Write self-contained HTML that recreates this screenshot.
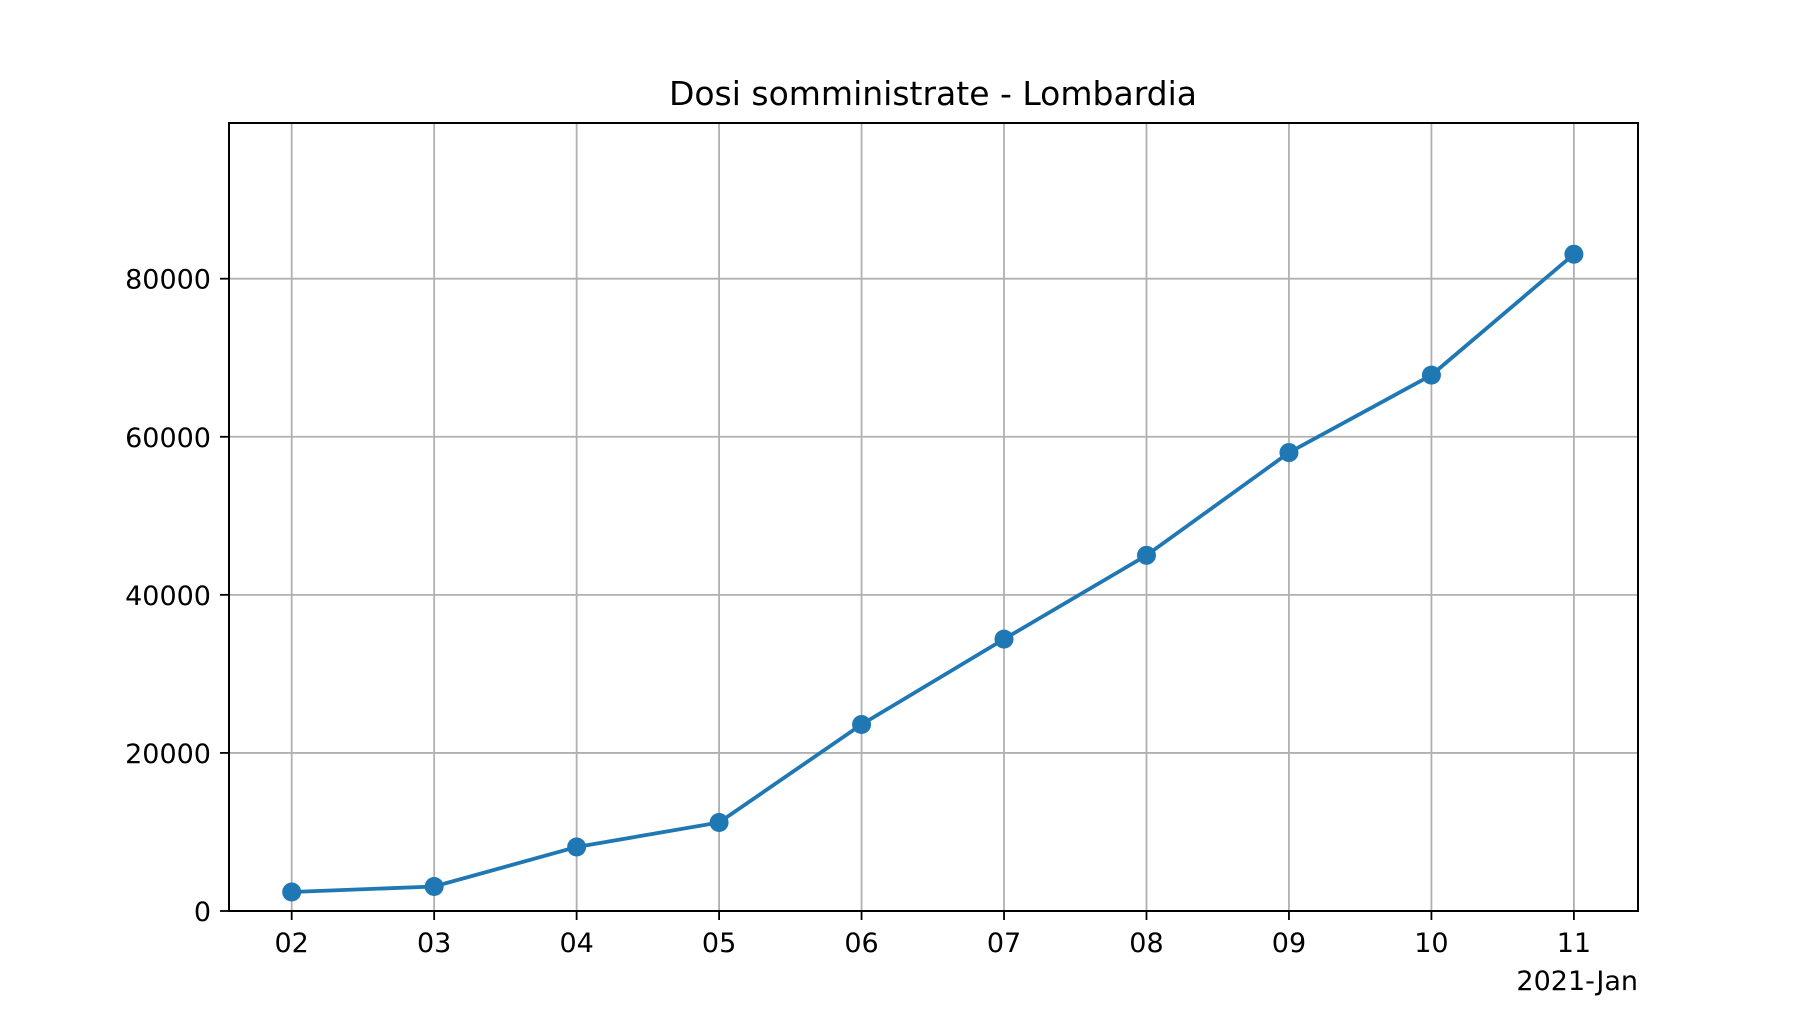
<!DOCTYPE html>
<html><head><meta charset="utf-8"><style>
html,body{margin:0;padding:0;background:#fff}
svg{display:block;font-family:"DejaVu Sans","Liberation Sans",sans-serif}
</style></head><body>
<svg id="chart" width="1820" height="1024">
<text x="933" y="105" font-size="33" text-anchor="middle">Dosi somministrate - Lombardia</text>
<g id="grid"></g>
<g id="ticks"></g>
<g id="series"></g>
<rect x="229" y="123" width="1409" height="788" fill="none" stroke="#000" stroke-width="2"/>
<text x="1638" y="990" font-size="27" text-anchor="end">2021-Jan</text>
</svg>
<script>
const days = ["02","03","04","05","06","07","08","09","10","11"];
const doses = [2400, 3100, 8100, 11200, 23600, 34400, 45000, 58000, 67800, 83100];
const yTicks = [0, 20000, 40000, 60000, 80000];
const L=229,R=1638,T=123,B=911;
const xMin=-0.44, xMax=9.45, yMin=0, yMax=99700;
const sx=i=>L+(i-xMin)/(xMax-xMin)*(R-L);
const sy=v=>B-(v-yMin)/(yMax-yMin)*(B-T);
const NS="http://www.w3.org/2000/svg";
function mk(tag,attrs,parent){const e=document.createElementNS(NS,tag);for(const k in attrs)e.setAttribute(k,attrs[k]);document.getElementById(parent).appendChild(e);return e;}
days.forEach((d,i)=>{
  const x=sx(i);
  const g=mk('line',{x1:x,x2:x,y1:T,y2:B,stroke:'#b0b0b0','stroke-width':1.8},'grid');
  
  
  const t=mk('line',{x1:x,x2:x,y1:B,y2:B+9,stroke:'#000','stroke-width':1.8},'ticks');
  
  
  const l=mk('text',{x:x,y:B+41,'font-size':27,'text-anchor':'middle'},'ticks');
  l.textContent=d;
  
  
});
yTicks.forEach(v=>{
  const y=sy(v);
  const g=mk('line',{x1:L,x2:R,y1:y,y2:y,stroke:'#b0b0b0','stroke-width':1.8},'grid');
  
  
  const t=mk('line',{x1:L-9,x2:L,y1:y,y2:y,stroke:'#000','stroke-width':1.8},'ticks');
  
  
  const l=mk('text',{x:L-18,y:y+10,'font-size':27,'text-anchor':'end'},'ticks');
  l.textContent=v;
  
  
});
const p=mk('polyline',{points:doses.map((v,i)=>sx(i)+','+sy(v)).join(' '),fill:'none',stroke:'#1f77b4','stroke-width':3.8},'series');


doses.forEach((v,i)=>{
  const c=mk('circle',{cx:sx(i),cy:sy(v),r:9.5,fill:'#1f77b4'},'series');
  
  
});
</script>
</body></html>
